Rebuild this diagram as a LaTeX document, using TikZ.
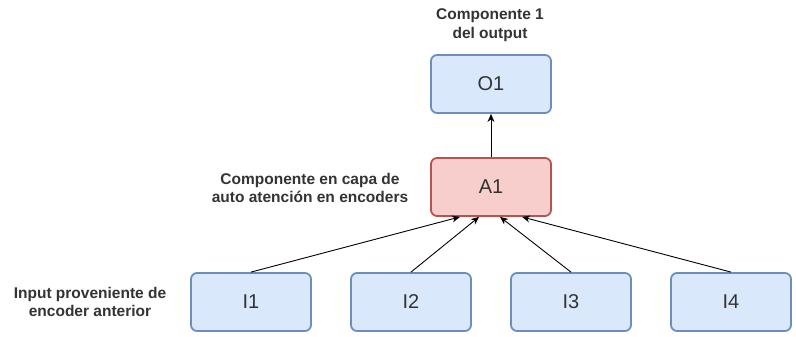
\documentclass[tikz,border=0pt]{standalone}
\usepackage{fontspec}
\setmainfont{Liberation Sans}
\usetikzlibrary{arrows.meta}
\definecolor{bfill}{HTML}{DAE8FC}
\definecolor{bline}{HTML}{6C8EBF}
\definecolor{rfill}{HTML}{F8CECC}
\definecolor{rline}{HTML}{B85450}
\definecolor{txt}{HTML}{333333}
\begin{document}
\begin{tikzpicture}[x=1pt,y=-1pt,
  box/.style={draw=bline,fill=bfill,line width=1.8pt,rounded corners=6pt,
    minimum width=120pt,minimum height=58pt,inner sep=0pt,text=txt,
    font=\fontsize{20}{24}\selectfont},
  redbox/.style={box,draw=rline,fill=rfill},
  lbl/.style={align=center,text=txt,font=\bfseries\fontsize{15.5}{18.5}\selectfont,inner sep=0pt},
  arr/.style={-{Stealth[length=8pt,width=7pt,inset=2.5pt]},line width=0.9pt,black}]
\useasboundingbox (0,0) rectangle (796,337);
\node[box] (O1) at (491,84) {O1};
\node[redbox] (A1) at (491,187) {A1};
\node[box] (I1) at (251,302) {I1};
\node[box] (I2) at (411,302) {I2};
\node[box] (I3) at (571,302) {I3};
\node[box] (I4) at (731,302) {I4};
\node[lbl] (L1) at (490,25) {Componente 1\\del output};
\node[lbl] (L2) at (310,188) {Componente en capa de\\auto atención en encoders};
\node[lbl] (L3) at (90,302) {Input proveniente de\\encoder anterior};
\draw[arr] (A1.north) -- (O1.south);
\draw[arr] (I1.north) -- ([xshift=-31pt]A1.south);
\draw[arr] (I2.north) -- ([xshift=-12pt]A1.south);
\draw[arr] (I3.north) -- ([xshift=9pt]A1.south);
\draw[arr] (I4.north) -- ([xshift=31pt]A1.south);
\end{tikzpicture}
\end{document}
